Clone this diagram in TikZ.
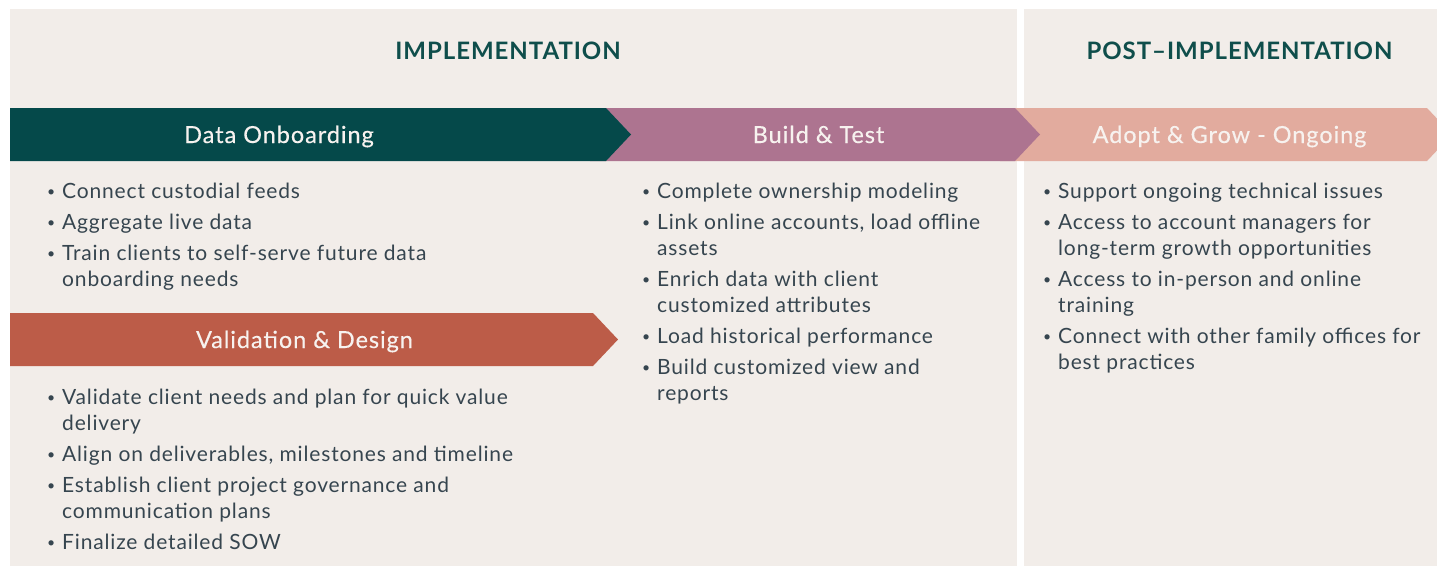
\documentclass[tikz,border=0pt]{standalone}
\usepackage{fontspec}
\setmainfont{Lato}[LetterSpace=4]
\newfontfamily\kopfschrift{Lato}[LetterSpace=4,FakeBold=0.4]
\usetikzlibrary{positioning}
\definecolor{hinter}{HTML}{F2EDE9}
\definecolor{petrol}{HTML}{05494A}
\definecolor{mauve}{HTML}{AD7490}
\definecolor{pfirsich}{HTML}{E2AB9E}
\definecolor{ziegel}{HTML}{BC5C48}
\definecolor{titelfarbe}{HTML}{0F4E4B}
\definecolor{schrift}{HTML}{36454F}
\definecolor{hell}{HTML}{F7F2EF}
\begin{document}
\begin{tikzpicture}[x=1pt,y=-1pt,
	kopf/.style={text=hell,anchor=base,inner sep=0pt,font=\kopfschrift\fontsize{23.5}{26}\selectfont},
	titel/.style={text=titelfarbe,anchor=base,inner sep=0pt,font=\bfseries\fontsize{24}{28}\selectfont},
	liste/.style={text=schrift,anchor=base west,inner sep=0pt,font=\fontsize{21}{26}\selectfont}]
\useasboundingbox (0,0) rectangle (1437,566);
\def\pfeil#1#2#3#4#5{
	\fill[#5] (#1,#3) -- (#2,#3) -- ({#2+25},{(#3+#4)/2}) -- (#2,#4) -- (#1,#4) -- cycle;
}
\def\pkt{\makebox[15pt][l]{\raisebox{2pt}{\fontsize{14}{14}\selectfont\textbullet}}}
% Hintergrund
\fill[hinter] (10,9) rectangle (1017,566);
\fill[hinter] (1024,9) rectangle (1437,566);
\node[titel] (impl) at (508,59) {IMPLEMENTATION};
\node[titel] (post) at (1239.5,59) {POST--IMPLEMENTATION};
% Pfeile
\pfeil{1000}{1427}{108}{161}{pfirsich}
\pfeil{590}{1015}{108}{161}{mauve}
\pfeil{10}{606}{108}{161}{petrol}
\pfeil{10}{593}{313}{366}{ziegel}
\node[kopf] (daten) at (279,143) {Data Onboarding};
\node[kopf] (bau) at (818.5,143) {Build \& Test};
\node[kopf] (adopt) at (1229.5,143) {Adopt \& Grow - Ongoing};
\node[kopf] (valid) at (304.5,348) {Validation \& Design};
% Listen
\node[liste] (ldaten) at (47,198) {\begin{tabular}[t]{@{}l@{}l@{}}
	\pkt & Connect custodial feeds\\[5pt]
	\pkt & Aggregate live data\\[5pt]
	\pkt & Train clients to self-serve future data\\
	     & onboarding needs
\end{tabular}};
\node[liste] (lvalid) at (47,404) {\begin{tabular}[t]{@{}l@{}l@{}}
	\pkt & Validate client needs and plan for quick value\\
	     & delivery\\[5pt]
	\pkt & Align on deliverables, milestones and timeline\\[5pt]
	\pkt & Establish client project governance and\\
	     & communication plans\\[5pt]
	\pkt & Finalize detailed SOW
\end{tabular}};
\node[liste] (lbau) at (642,198) {\begin{tabular}[t]{@{}l@{}l@{}}
	\pkt & Complete ownership modeling\\[5pt]
	\pkt & Link online accounts, load offline\\
	     & assets\\[5pt]
	\pkt & Enrich data with client\\
	     & customized attributes\\[5pt]
	\pkt & Load historical performance\\[5pt]
	\pkt & Build customized view and\\
	     & reports
\end{tabular}};
\node[liste] (ladopt) at (1043,198) {\begin{tabular}[t]{@{}l@{}l@{}}
	\pkt & Support ongoing technical issues\\[5pt]
	\pkt & Access to account managers for\\
	     & long-term growth opportunities\\[5pt]
	\pkt & Access to in-person and online\\
	     & training\\[5pt]
	\pkt & Connect with other family offices for\\
	     & best practices
\end{tabular}};
\end{tikzpicture}
\end{document}
